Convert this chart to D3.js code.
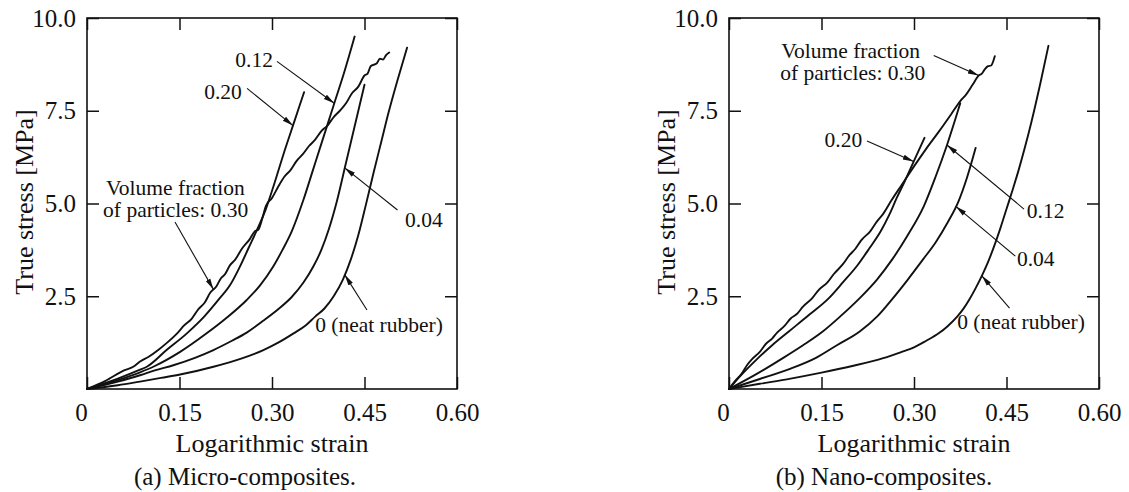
<!DOCTYPE html>
<html>
<head>
<meta charset="utf-8">
<script src="https://cdn.jsdelivr.net/npm/d3@7"></script>
<style>
  html, body { margin: 0; padding: 0; background: #fff; }
  svg { display: block; font-family: "Liberation Serif", "DejaVu Serif", "Noto Serif", "Times New Roman", Times, serif; }
</style>
</head>
<body>
<div id="chart"></div>
<script>
// axis ticks
const STRAIN_TICKS = [0, 0.15, 0.30, 0.45, 0.60];
const STRESS_TICKS = [2.5, 5.0, 7.5, 10.0];

// (a) micro-composites: [log strain, true stress MPa]
const MICRO_000 = [[0,0],[0.05,0.1],[0.086,0.2],[0.12,0.3],[0.151,0.39],[0.205,0.6],[0.25,0.82],[0.286,1.05],[0.31,1.25],[0.335,1.5],[0.355,1.72],[0.37,1.95],[0.385,2.17],[0.40,2.5],[0.415,2.95],[0.428,3.5],[0.44,4.15],[0.452,4.95],[0.465,5.85],[0.477,6.65],[0.489,7.45],[0.504,8.35],[0.519,9.2]];
const MICRO_004 = [[0,0],[0.05,0.2],[0.086,0.37],[0.11,0.5],[0.14,0.64],[0.175,0.84],[0.205,1.05],[0.235,1.3],[0.259,1.52],[0.285,1.83],[0.31,2.15],[0.332,2.48],[0.351,2.87],[0.367,3.3],[0.38,3.75],[0.392,4.3],[0.405,5.05],[0.42,6.1],[0.435,7.15],[0.45,8.2]];
const MICRO_012 = [[0,0],[0.05,0.24],[0.086,0.45],[0.11,0.62],[0.151,1.0],[0.194,1.5],[0.225,1.9],[0.259,2.4],[0.28,2.78],[0.302,3.3],[0.317,3.75],[0.332,4.25],[0.351,5.1],[0.366,5.88],[0.381,6.66],[0.40,7.65],[0.417,8.53],[0.434,9.5]];
const MICRO_020 = [[0,0],[0.05,0.28],[0.086,0.52],[0.097,0.6],[0.129,1.05],[0.162,1.5],[0.19,1.95],[0.213,2.4],[0.232,2.8],[0.248,3.3],[0.262,3.8],[0.276,4.3],[0.29,4.85],[0.305,5.6],[0.32,6.4],[0.336,7.2],[0.352,8.0]];
const MICRO_030 = [[0,0],[0.03,0.22],[0.06,0.5],[0.075,0.6],[0.086,0.74],[0.10,0.87],[0.116,1.06],[0.13,1.25],[0.145,1.48],[0.158,1.72],[0.17,1.9],[0.181,2.16],[0.191,2.33],[0.20,2.6],[0.21,2.77],[0.217,2.98],[0.224,3.1],[0.232,3.34],[0.24,3.48],[0.252,3.8],[0.264,4.04],[0.272,4.25],[0.278,4.3],[0.284,4.58],[0.29,4.93],[0.30,5.15],[0.31,5.45],[0.32,5.72],[0.33,5.9],[0.34,6.15],[0.35,6.33],[0.36,6.55],[0.37,6.72],[0.38,6.95],[0.39,7.1],[0.40,7.33],[0.41,7.5],[0.42,7.7],[0.43,7.98],[0.44,8.15],[0.45,8.45],[0.455,8.5],[0.46,8.7],[0.47,8.78],[0.475,8.9],[0.48,8.88],[0.485,9.0],[0.49,9.07]];

// (b) nano-composites
const NANO_000 = [[0,0],[0.05,0.14],[0.10,0.28],[0.15,0.44],[0.20,0.62],[0.25,0.83],[0.28,1.0],[0.30,1.12],[0.32,1.3],[0.34,1.5],[0.355,1.7],[0.37,1.95],[0.38,2.16],[0.39,2.42],[0.40,2.72],[0.41,3.05],[0.42,3.42],[0.43,3.85],[0.44,4.33],[0.45,4.85],[0.46,5.37],[0.47,5.92],[0.48,6.52],[0.49,7.17],[0.505,8.25],[0.518,9.25]];
const NANO_004 = [[0,0],[0.05,0.27],[0.10,0.55],[0.141,0.84],[0.175,1.18],[0.212,1.55],[0.24,1.95],[0.266,2.45],[0.29,2.95],[0.315,3.5],[0.335,3.95],[0.355,4.5],[0.372,5.05],[0.386,5.7],[0.40,6.5]];
const NANO_012 = [[0,0],[0.04,0.36],[0.088,0.84],[0.12,1.18],[0.152,1.55],[0.18,1.95],[0.212,2.45],[0.24,2.95],[0.265,3.5],[0.29,4.15],[0.316,4.93],[0.335,5.72],[0.353,6.55],[0.375,7.7]];
const NANO_020 = [[0,0],[0.02,0.38],[0.045,0.8],[0.07,1.18],[0.097,1.55],[0.13,2.0],[0.162,2.45],[0.185,2.88],[0.209,3.35],[0.228,3.8],[0.246,4.25],[0.26,4.7],[0.272,5.15],[0.285,5.6],[0.30,6.15],[0.317,6.77]];
const NANO_030 = [[0,0],[0.01,0.22],[0.02,0.4],[0.03,0.66],[0.037,0.8],[0.05,1.0],[0.06,1.22],[0.07,1.36],[0.078,1.52],[0.09,1.7],[0.10,1.9],[0.11,2.02],[0.12,2.22],[0.135,2.45],[0.145,2.66],[0.16,2.88],[0.17,3.1],[0.184,3.35],[0.195,3.6],[0.205,3.78],[0.215,4.02],[0.229,4.25],[0.24,4.52],[0.25,4.72],[0.264,5.1],[0.28,5.5],[0.30,6.0],[0.32,6.48],[0.34,6.93],[0.36,7.4],[0.375,7.76],[0.385,7.95],[0.395,8.2],[0.405,8.45],[0.41,8.5],[0.415,8.62],[0.42,8.7],[0.425,8.72],[0.431,8.97]];

// annotations: text at (x,y), arrow from (x0,y0) to the curve at strain `at`
const MICRO_NOTES = [
  { lines: ['Volume fraction', 'of particles: 0.30'], x: 0.031, y: 5.23, dx2: -3, x0: 0.1427, y0: 4.50, curve: MICRO_030, at: 0.205 },
  { lines: ['0.20'], x: 0.190, y: 7.82, x0: 0.2595, y0: 8.105, curve: MICRO_020, at: 0.334 },
  { lines: ['0.12'], x: 0.2405, y: 8.67, x0: 0.308, y0: 8.83, curve: MICRO_012, at: 0.401 },
  { lines: ['0.04'], x: 0.5157, y: 4.375, x0: 0.5035, y0: 4.825, curve: MICRO_004, at: 0.418 },
  { lines: ['0 (neat rubber)'], x: 0.370, y: 1.545, x0: 0.454, y0: 2.13, curve: MICRO_000, at: 0.418 },
];
const NANO_NOTES = [
  { lines: ['Volume fraction', 'of particles: 0.30'], x: 0.0848, y: 8.93, dx2: -1, x0: 0.332, y0: 8.99, curve: NANO_030, at: 0.405 },
  { lines: ['0.20'], x: 0.155, y: 6.52, x0: 0.2238, y0: 6.685, curve: NANO_020, at: 0.2995 },
  { lines: ['0.12'], x: 0.483, y: 4.61, x0: 0.4784, y0: 4.85, curve: NANO_012, at: 0.3535 },
  { lines: ['0.04'], x: 0.467, y: 3.31, x0: 0.4643, y0: 3.58, curve: NANO_004, at: 0.368 },
  { lines: ['0 (neat rubber)'], x: 0.370, y: 1.617, x0: 0.4549, y0: 2.18, curve: NANO_000, at: 0.41 },
];

const W = 1129, H = 492;
const plotW = 370, plotTop = 18, plotBottom = 389;

const panels = [
  { left: 87, captionX: 245, caption: '(a) Micro-composites.', series: [MICRO_000, MICRO_004, MICRO_012, MICRO_020, MICRO_030], notes: MICRO_NOTES },
  { left: 729, captionX: 884, caption: '(b) Nano-composites.', series: [NANO_000, NANO_004, NANO_012, NANO_020, NANO_030], notes: NANO_NOTES },
];

// stress on a curve at a given strain (linear between read points)
function stressAt(curve, s) {
  const i = d3.bisector(d => d[0]).left(curve, s);
  if (i <= 0) return curve[0][1];
  if (i >= curve.length) return curve[curve.length - 1][1];
  const a = curve[i - 1], b = curve[i];
  return a[1] + (b[1] - a[1]) * (s - a[0]) / (b[0] - a[0]);
}

const svg = d3.select('#chart').append('svg')
  .attr('width', W)
  .attr('height', H);

svg.append('rect').attr('width', W).attr('height', H).attr('fill', '#fff');

svg.append('defs').append('marker')
  .attr('id', 'head')
  .attr('markerUnits', 'userSpaceOnUse')
  .attr('markerWidth', 12).attr('markerHeight', 8)
  .attr('viewBox', '0 -4 12 8')
  .attr('refX', 11).attr('refY', 0)
  .attr('orient', 'auto')
  .append('path')
  .attr('d', 'M0,-2.6L11,0L0,2.6Z')
  .attr('fill', '#111');

function styleAxis(g) {
  g.select('.domain').remove();
  g.selectAll('line').attr('stroke', '#111').attr('stroke-width', 1.5);
  g.selectAll('text').attr('fill', '#111').attr('font-size', '25px');
  g.attr('font-family', null);
}

panels.forEach(p => {
  const x = d3.scaleLinear().domain([0, 0.6]).range([p.left, p.left + plotW]);
  const y = d3.scaleLinear().domain([0, 10]).range([plotBottom, plotTop]);
  const g = svg.append('g');

  // inward ticks on all four sides
  g.append('g')
    .attr('transform', `translate(0,${plotBottom})`)
    .call(d3.axisBottom(x).tickValues(STRAIN_TICKS).tickSizeInner(-12).tickSizeOuter(0).tickPadding(14)
      .tickFormat(d => d === 0 ? '0' : d.toFixed(2)))
    .call(styleAxis)
    .call(a => a.selectAll('.tick').filter(d => d === 0).select('text').attr('dx', -6));

  g.append('g')
    .attr('transform', `translate(0,${plotTop})`)
    .call(d3.axisTop(x).tickValues(STRAIN_TICKS).tickSizeInner(-12).tickSizeOuter(0).tickFormat(''))
    .call(styleAxis);

  g.append('g')
    .attr('transform', `translate(${p.left},0)`)
    .call(d3.axisLeft(y).tickValues(STRESS_TICKS).tickSizeInner(-12).tickSizeOuter(0).tickPadding(11)
      .tickFormat(d => d.toFixed(1)))
    .call(styleAxis);

  g.append('g')
    .attr('transform', `translate(${p.left + plotW},0)`)
    .call(d3.axisRight(y).tickValues(STRESS_TICKS).tickSizeInner(-12).tickSizeOuter(0).tickFormat(''))
    .call(styleAxis);

  g.append('rect')
    .attr('x', p.left).attr('y', plotTop)
    .attr('width', plotW).attr('height', plotBottom - plotTop)
    .attr('fill', 'none').attr('stroke', '#111').attr('stroke-width', 1.6);

  // curves
  const line = d3.line()
    .x(d => x(d[0]))
    .y(d => y(d[1]))
    .curve(d3.curveMonotoneX);

  g.selectAll('path.curve')
    .data(p.series)
    .join('path')
    .attr('class', 'curve')
    .attr('d', line)
    .attr('fill', 'none')
    .attr('stroke', '#111')
    .attr('stroke-width', 1.9)
    .attr('stroke-linejoin', 'round')
    .attr('stroke-linecap', 'round');

  // annotations
  p.notes.forEach(n => {
    g.append('line')
      .attr('x1', x(n.x0)).attr('y1', y(n.y0))
      .attr('x2', x(n.at)).attr('y2', y(stressAt(n.curve, n.at)))
      .attr('stroke', '#111').attr('stroke-width', 1.1)
      .attr('marker-end', 'url(#head)');
    const t = g.append('text')
      .attr('x', x(n.x)).attr('y', y(n.y))
      .attr('font-size', '21.5px').attr('fill', '#111');
    n.lines.forEach((s, i) => {
      t.append('tspan')
        .attr('x', x(n.x) + (i ? (n.dx2 || 0) : 0))
        .attr('dy', i ? 22 : 0)
        .text(s);
    });
  });

  // titles
  g.append('text')
    .attr('x', p.left + plotW / 2).attr('y', 452)
    .attr('text-anchor', 'middle').attr('font-size', '26px').attr('fill', '#111')
    .text('Logarithmic strain');

  g.append('text')
    .attr('transform', `translate(${p.left - 54},202) rotate(-90)`)
    .attr('text-anchor', 'middle').attr('font-size', '26px').attr('fill', '#111')
    .text('True stress [MPa]');

  g.append('text')
    .attr('x', p.captionX).attr('y', 485)
    .attr('text-anchor', 'middle').attr('font-size', '25px').attr('fill', '#111')
    .text(p.caption);
});
</script>
</body>
</html>
